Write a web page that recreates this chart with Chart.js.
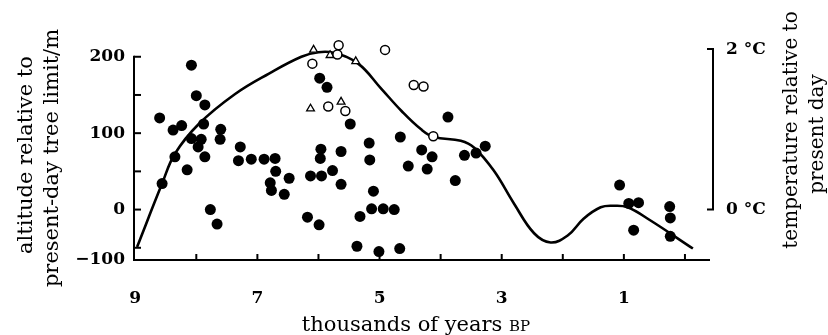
<!DOCTYPE html>
<html>
<head>
<meta charset="utf-8">
<script src="https://cdn.jsdelivr.net/npm/chart.js@4.4.1/dist/chart.umd.min.js"></script>
<style>
  html, body { margin: 0; padding: 0; background: #fff; }
  #wrap { width: 828px; height: 335px; }
</style>
</head>
<body>
<div id="wrap"><canvas id="chart" width="828" height="335"></canvas></div>
<script>
// smoothed tree-limit / temperature curve (thousands of years BP, m)
const curveAge = [8.97, 8.56, 8.35, 7.96, 7.37, 6.81, 6.28, 6.0, 5.74, 5.35, 4.97, 4.64, 4.32, 4.11, 3.67, 3.45, 3.13, 2.80, 2.47, 2.20, 1.92, 1.66, 1.38, 1.17, 0.94, 0.57, -0.13];
const curveAlt = [-49, 34, 73, 112, 151, 178, 200, 206, 205, 191, 158, 129, 105, 95, 90, 81, 51, 8, -31, -43, -34, -12, 3, 5, 3, -14, -51];

// filled circles
const filledAge = [8.60, 8.08, 8.00, 7.86, 8.38, 8.24, 7.88, 8.08, 7.92, 7.97, 8.35, 7.86, 8.56, 8.15, 7.77,
  7.66, 7.60, 7.61, 7.28, 7.31, 7.10, 6.89, 6.71, 6.70, 6.79, 6.77, 6.56, 6.48, 6.18, 5.99,
  6.13, 5.95, 5.96, 5.97, 5.77, 5.63, 5.63, 5.98, 5.86, 5.48, 5.32, 5.37, 5.17, 5.16, 5.10,
  5.13, 4.94, 4.76, 5.01, 4.67, 4.66, 4.53, 4.31, 4.14, 4.22, 3.88, 3.76, 3.61, 3.42, 3.27,
  1.07, 0.92, 0.76, 0.84, 0.25, 0.24, 0.24];
const filledAlt = [120, 189, 149, 137, 104, 110, 112, 93, 92, 82, 69, 69, 34, 52, 0,
  -19, 105, 92, 82, 64, 66, 66, 67, 50, 35, 25, 20, 41, -10, -20,
  44, 44, 79, 67, 51, 76, 33, 172, 160, 112, -9, -48, 87, 65, 24,
  1, 1, 0, -55, -51, 95, 57, 78, 69, 53, 121, 38, 71, 74, 83,
  32, 8, 9, -27, 4, -11, -35];

// open circles
const openAge = [6.10, 5.84, 5.56, 5.67, 5.69, 4.91, 4.44, 4.28, 4.12];
const openAlt = [191, 135, 129, 215, 203, 209, 163, 161, 96];

// open triangles
const triAge = [6.08, 6.13, 5.81, 5.63, 5.39];
const triAlt = [209, 132, 202, 141, 194];

// axes
const xTicks = [9, 8, 7, 6, 5, 4, 3, 2, 1, 0];
const xLabelled = [9, 7, 5, 3, 1];
const yAxisMin = -66;   // bottom of the drawn axis, labelled -100
const yAxisMax = 240;
const yTicks = [200, 150, 100, 50, 0, -50];
const yLabelled = [200, 100, 0];
const metresPerDegree = 105;
const tempTicks = [0, 2];

const serif = "'DejaVu Serif', serif";
const toXY = (xs, ys) => xs.map((x, i) => ({ x, y: ys[i] }));

const axisPlugin = {
    id: 'axisDraw',
    beforeDatasetsDraw(chart) {
        const { ctx, chartArea, scales } = chart;
        const x = scales.x, y = scales.y, t = scales.y2;
        const left = chartArea.left, bottom = chartArea.bottom;
        ctx.save();
        ctx.strokeStyle = '#000';
        ctx.lineWidth = 2;
        ctx.lineCap = 'butt';
        // left axis line, from 200 down to base
        ctx.beginPath();
        ctx.moveTo(left, y.getPixelForValue(200) - 1);
        ctx.lineTo(left, bottom + 1);
        ctx.stroke();
        // inward ticks on left axis
        yTicks.forEach(v => {
            const py = y.getPixelForValue(v);
            ctx.beginPath();
            ctx.moveTo(left, py);
            ctx.lineTo(left + 7, py);
            ctx.stroke();
        });
        // bottom axis line
        ctx.beginPath();
        ctx.moveTo(left - 1, bottom);
        ctx.lineTo(chartArea.right, bottom);
        ctx.stroke();
        xTicks.filter(v => v !== 9).forEach(v => {
            const px = x.getPixelForValue(v);
            ctx.beginPath();
            ctx.moveTo(px, bottom);
            ctx.lineTo(px, bottom - 6);
            ctx.stroke();
        });
        // temperature bracket
        const bx = chartArea.right + 3;
        const top2 = t.getPixelForValue(2), bot2 = t.getPixelForValue(0);
        ctx.beginPath();
        ctx.moveTo(bx - 6, top2);
        ctx.lineTo(bx, top2);
        ctx.lineTo(bx, bot2);
        ctx.lineTo(bx - 6, bot2);
        ctx.stroke();
        ctx.restore();
    },
    afterDraw(chart) {
        const { ctx } = chart;
        ctx.save();
        ctx.fillStyle = '#000';
        // x title with small-caps BP
        const f1 = '21px ' + serif, f2 = '15px ' + serif;
        ctx.font = f1;
        const s1 = 'thousands of years ';
        const w1 = ctx.measureText(s1).width;
        ctx.font = f2;
        const w2 = ctx.measureText('BP').width;
        let sx = 416 - (w1 + w2) / 2;
        ctx.textBaseline = 'alphabetic';
        ctx.textAlign = 'left';
        ctx.font = f1;
        ctx.fillText(s1, sx, 331);
        ctx.font = f2;
        ctx.fillText('BP', sx + w1, 331);

        // rotated titles
        const vtext = (txt, cx, cy, font) => {
            ctx.save();
            ctx.translate(cx, cy);
            ctx.rotate(-Math.PI / 2);
            ctx.font = font;
            ctx.textAlign = 'center';
            ctx.textBaseline = 'middle';
            ctx.fillText(txt, 0, 0);
            ctx.restore();
        };
        vtext('altitude relative to', 27, 155, f1);
        vtext('present-day tree limit/m', 53, 158, f1);
        vtext('temperature relative to', 792, 130, '20px ' + serif);
        vtext('present day', 818, 134, '20px ' + serif);
        ctx.restore();
    }
};

new Chart(document.getElementById('chart'), {
    data: {
        datasets: [
            {
                type: 'scatter',
                data: toXY(openAge, openAlt),
                pointStyle: 'circle',
                pointRadius: 4.5,
                pointBackgroundColor: '#fff',
                pointBorderColor: '#000',
                pointBorderWidth: 1.5,
            },
            {
                type: 'scatter',
                data: toXY(triAge, triAlt),
                pointStyle: 'triangle',
                pointRadius: 4.5,
                pointBackgroundColor: '#fff',
                pointBorderColor: '#000',
                pointBorderWidth: 1.3,
            },
            {
                type: 'scatter',
                data: toXY(filledAge, filledAlt),
                pointStyle: 'circle',
                pointRadius: 5.5,
                pointBackgroundColor: '#000',
                pointBorderColor: '#000',
                pointBorderWidth: 0,
            },
            {
                type: 'line',
                data: toXY(curveAge, curveAlt),
                borderColor: '#000',
                borderWidth: 2.6,
                pointRadius: 0,
                tension: 0.4,
                fill: false,
            },
        ],
    },
    options: {
        responsive: false,
        animation: false,
        layout: { padding: { top: 24, left: 0, right: 0, bottom: 0 } },
        plugins: {
            legend: { display: false },
            tooltip: { enabled: false },
        },
        scales: {
            x: {
                type: 'linear',
                reverse: true,
                min: -0.41,
                max: 9.02,
                afterBuildTicks: s => { s.ticks = xTicks.map(v => ({ value: v })); },
                afterFit: s => { s.height = 75; },
                grid: { display: false, drawTicks: false },
                border: { display: false },
                ticks: {
                    autoSkip: false,
                    maxRotation: 0,
                    padding: 28,
                    color: '#000',
                    font: { family: serif, size: 17, weight: 'bold' },
                    callback: v => xLabelled.includes(v) ? String(v) : '',
                },
            },
            y: {
                type: 'linear',
                position: 'left',
                min: yAxisMin,
                max: yAxisMax,
                afterBuildTicks: s => {
                    s.ticks = [yAxisMin].concat(yLabelled).map(v => ({ value: v }));
                },
                afterFit: s => { s.width = 134; },
                grid: { display: false, drawTicks: false },
                border: { display: false },
                ticks: {
                    autoSkip: false,
                    padding: 9,
                    color: '#000',
                    font: { family: serif, size: 17, weight: 'bold' },
                    callback: v => v === yAxisMin ? '\u2212100' : String(v),
                },
            },
            y2: {
                type: 'linear',
                position: 'right',
                min: yAxisMin / metresPerDegree,
                max: yAxisMax / metresPerDegree,
                afterBuildTicks: s => { s.ticks = tempTicks.map(v => ({ value: v })); },
                afterFit: s => { s.width = 118; },
                grid: { display: false, drawTicks: false },
                border: { display: false },
                ticks: {
                    autoSkip: false,
                    padding: 16,
                    color: '#000',
                    font: { family: serif, size: 17, weight: 'bold' },
                    callback: v => v + ' \u00B0C',
                },
            },
        },
    },
    plugins: [axisPlugin],
});
</script>
</body>
</html>
